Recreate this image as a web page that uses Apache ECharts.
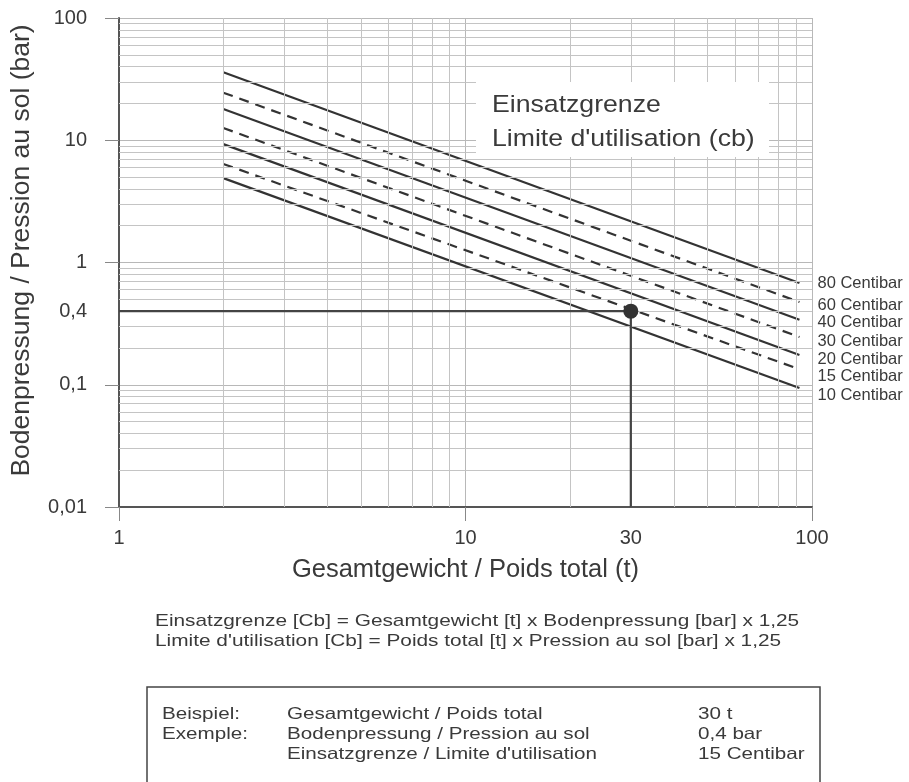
<!DOCTYPE html>
<html>
<head>
<meta charset="utf-8">
<script src="https://cdn.jsdelivr.net/npm/echarts@6/dist/echarts.min.js"></script>
<style>
html,body{margin:0;padding:0;background:#fff;}
#chart{width:909px;height:782px;}
</style>
</head>
<body>
<div id="chart"></div>
<script>
// ---- data ----
const seriesNames = ['80 Centibar', '60 Centibar', '40 Centibar', '30 Centibar', '20 Centibar', '15 Centibar', '10 Centibar'];
const weightEnds = [2, 92];                       // Gesamtgewicht (t) at line start / end
const pressureStart = [36, 24.5, 18, 12.6, 9.3, 6.4, 4.9];   // bar at 2 t
const pressureEnd = [0.68, 0.475, 0.34, 0.246, 0.175, 0.134, 0.094]; // bar at 92 t
const exampleX = [1, 30, 30];
const exampleY = [0.4, 0.4, 0.01];
const examplePoint = [30, 0.4];
const extraLabelPoints = [[1, 0.4, '0,4'], [30, 0.01, '30']];
const gridX = [2, 3, 4, 5, 6, 7, 8, 9, 20, 30, 40, 50, 60, 70, 80, 90];
const gridY = [0.02, 0.03, 0.04, 0.05, 0.06, 0.07, 0.08, 0.09,
               0.2, 0.3, 0.4, 0.5, 0.6, 0.7, 0.8, 0.9,
               2, 3, 4, 5, 6, 7, 8, 9,
               20, 30, 40, 50, 60, 70, 80, 90];
const formulaLines = [
  'Einsatzgrenze [Cb] = Gesamtgewicht [t] x Bodenpressung [bar] x 1,25',
  "Limite d'utilisation [Cb] = Poids total [t] x Pression au sol [bar] x 1,25"
];
const exampleCol1 = ['Beispiel:', 'Exemple:', ''];
const exampleCol2 = ['Gesamtgewicht / Poids total', 'Bodenpressung / Pression au sol', "Einsatzgrenze / Limite d'utilisation"];
const exampleCol3 = ['30 t', '0,4 bar', '15 Centibar'];
const boxTitle = ['Einsatzgrenze', "Limite d'utilisation (cb)"];

// ---- chart ----
const FONT = '"Liberation Sans", Arial, Helvetica, sans-serif';
const TXT = '#3a3a3a';
const fmt = v => String(v).replace('.', ',');
const endLabelNudge = [0, 3, 3, 4, 4, 7, 7];   // label spacing at the right edge

const chart = echarts.init(document.getElementById('chart'), null, {renderer: 'canvas'});

const lineSeries = seriesNames.map((name, i) => ({
  name: name,
  type: 'line',
  data: [[weightEnds[0], pressureStart[i]], [weightEnds[1], pressureEnd[i]]],
  showSymbol: false,
  symbol: 'none',
  silent: true,
  z: 4,
  lineStyle: {color: '#333', width: 2.2, type: i % 2 === 1 ? [10, 7] : 'solid'},
  endLabel: {show: true, formatter: '{a}', color: TXT, fontSize: 16.5, fontFamily: FONT,
             distance: 18, offset: [0, endLabelNudge[i]]}
}));

function txt(x, y, lines, size, lh, sx) {
  return {type: 'text', z: 21, x: x, y: y, scaleX: sx, scaleY: 1,
    style: {text: lines.join('\n'), fill: TXT, font: size + 'px ' + FONT,
            lineHeight: lh, verticalAlign: 'top', align: 'left'}};
}

const option = {
  animation: false,
  backgroundColor: '#fff',
  textStyle: {fontFamily: FONT},
  grid: {left: 119, right: 97, top: 18, bottom: 275, containLabel: false},
  xAxis: {
    type: 'log', logBase: 10, min: 1, max: 100,
    name: 'Gesamtgewicht / Poids total (t)',
    nameLocation: 'middle', nameGap: 50,
    nameTextStyle: {fontSize: 25.5, color: TXT, fontFamily: FONT},
    axisLine: {show: true, onZero: false, lineStyle: {color: '#555', width: 2}},
    axisTick: {show: true, length: 14, lineStyle: {color: '#888'}},
    axisLabel: {fontSize: 20, color: TXT, margin: 21, formatter: fmt, fontFamily: FONT},
    splitLine: {show: true, lineStyle: {color: '#b8b8b8', width: 1}}
  },
  yAxis: {
    type: 'log', logBase: 10, min: 0.01, max: 100,
    name: 'Bodenpressung / Pression au sol (bar)',
    nameLocation: 'middle', nameGap: 84, nameRotate: 90,
    nameTextStyle: {fontSize: 26.5, color: TXT, fontFamily: FONT, padding: [0, 0, 0, 24]},
    axisLine: {show: true, onZero: false, lineStyle: {color: '#555', width: 2}},
    axisTick: {show: true, length: 14, lineStyle: {color: '#888'}},
    axisLabel: {fontSize: 20, color: TXT, margin: 32, formatter: fmt, fontFamily: FONT},
    splitLine: {show: true, lineStyle: {color: '#b8b8b8', width: 1}}
  },
  series: [
    {
      name: 'grid', type: 'line', data: [], silent: true, z: 1,
      markLine: {
        silent: true, symbol: ['none', 'none'], animation: false,
        label: {show: false},
        lineStyle: {color: '#c4c4c4', width: 1, type: 'solid'},
        emphasis: {disabled: true},
        data: gridX.map(v => ({xAxis: v})).concat(gridY.map(v => ({yAxis: v})))
      }
    },
    ...lineSeries,
    {
      name: 'example', type: 'line', silent: true, z: 5,
      data: exampleX.map((x, i) => [x, exampleY[i]]),
      showSymbol: false, symbol: 'none',
      lineStyle: {color: '#444', width: 2.2}
    },
    {
      name: 'point', type: 'scatter', silent: true, z: 6,
      data: [examplePoint], symbolSize: 15,
      itemStyle: {color: '#333', opacity: 1}
    },
    {
      name: 'extraLabels', type: 'scatter', silent: true, z: 6,
      data: extraLabelPoints.map(p => ({value: [p[0], p[1]], name: p[2],
        label: {position: p[0] === 1 ? 'left' : 'bottom', distance: p[0] === 1 ? 32 : 21}})),
      symbolSize: 0,
      itemStyle: {opacity: 1},
      label: {show: true, formatter: '{b}', fontSize: 20, color: TXT, fontFamily: FONT, opacity: 1}
    }
  ],
  graphic: [
    {type: 'rect', z: 20, shape: {x: 476, y: 82, width: 293, height: 75}, style: {fill: '#fff'}},
    txt(492, 88, boxTitle, 24, 34, 1.11),
    txt(155, 611, formulaLines, 17, 20.5, 1.225),
    {type: 'rect', z: 20, shape: {x: 147, y: 687, width: 673, height: 120}, style: {fill: 'none', stroke: '#444', lineWidth: 1.5}},
    txt(162, 704, exampleCol1, 16.5, 20, 1.25),
    txt(287, 704, exampleCol2, 16.5, 20, 1.25),
    txt(698, 704, exampleCol3, 16.5, 20, 1.25)
  ]
};
chart.setOption(option);
</script>
</body>
</html>
